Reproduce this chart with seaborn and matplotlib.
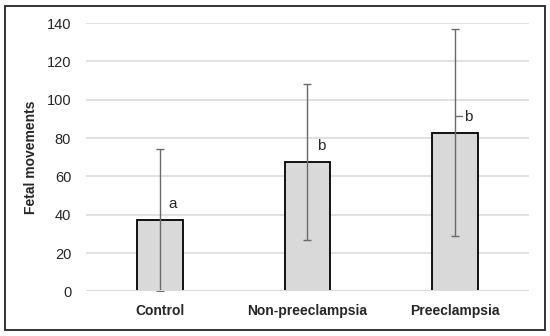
import numpy as np
import pandas as pd
import seaborn as sns
import matplotlib.pyplot as plt
from matplotlib.patches import Rectangle

# values
groups = ["Control", "Non-preeclampsia", "Preeclampsia"]
means = [37.1, 67.7, 82.9]
sds = [37.1, 40.7, 54.0]
letters = ["a", "b", "b"]
letter_y = [45.5, 76.0, 91.0]

df = pd.DataFrame({"group": groups, "mean": means})

sns.set_style("white")
plt.rcParams["font.family"] = ["Liberation Sans", "DejaVu Sans"]

fig = plt.figure(figsize=(5.5, 3.36), dpi=100)
ax = fig.add_axes([0.156, 0.133, 0.806, 0.798])

sns.barplot(data=df, x="group", y="mean", color="#d9d9d9", width=0.31,
            edgecolor="black", linewidth=1.3, saturation=1, ax=ax, zorder=2)

# lower whisker can't go below zero
lower = [min(m, s) for m, s in zip(means, sds)]
ax.errorbar(np.arange(len(groups)), means, yerr=[lower, sds], fmt="none",
            ecolor="#6a6a6a", elinewidth=1.0, capsize=3, capthick=1.0, zorder=3)
# baseline gridline sits over the bar bottoms
ax.axhline(0, color="#d9d9d9", lw=2.2, zorder=4)

# significance letters
for i, (t, y) in enumerate(zip(letters, letter_y)):
    ax.text(i + 0.09, y, t, fontsize=11, ha="center", va="center")
ax.plot([2.0, 2.045], [91.6, 91.6], color="#6a6a6a", lw=1, zorder=3)

ax.set_ylim(0, 140)
ax.set_xlim(-0.5, 2.5)
ax.set_yticks(range(0, 141, 20))
ax.yaxis.grid(True, color="#d9d9d9", lw=1.1, zorder=0)
ax.set_axisbelow(True)
for s in ax.spines.values():
    s.set_visible(False)
ax.tick_params(axis="y", labelsize=10.5, length=0, pad=10.5)
ax.tick_params(axis="x", length=0, pad=9)
for lab in ax.get_xticklabels():
    lab.set_fontweight("bold")
    lab.set_fontsize(10)
ax.set_xlabel("")
ax.set_ylabel("Fetal movements", fontsize=10, fontweight="bold", labelpad=6)

fig.add_artist(Rectangle((0.0085, 0.017), 0.982, 0.966, transform=fig.transFigure,
                         fill=False, edgecolor="#222222", lw=1.3))

fig.savefig("out.png", dpi=100)
